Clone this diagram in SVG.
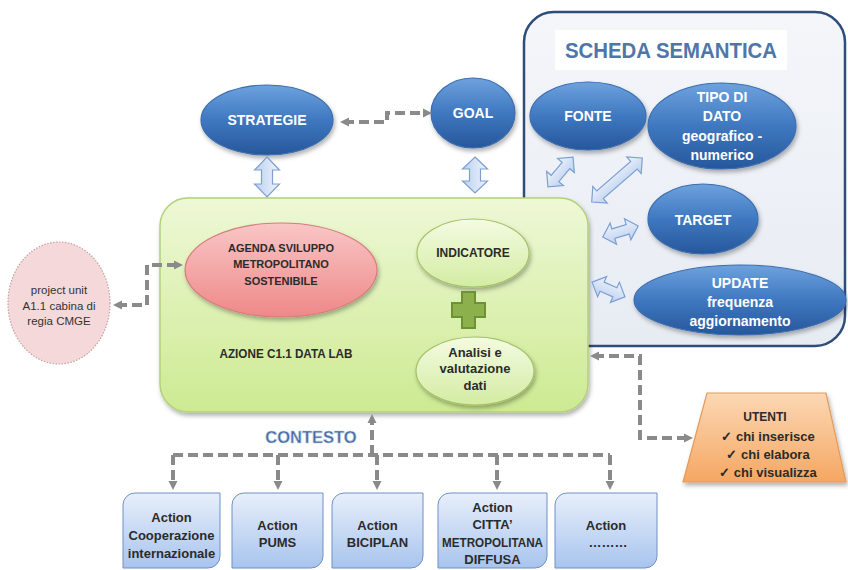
<svg xmlns="http://www.w3.org/2000/svg" width="848" height="570" viewBox="0 0 848 570">
<defs>
<style>
text{font-family:"Liberation Sans",Arial,sans-serif;text-anchor:middle}
.bt{fill:#fff;font-weight:bold;font-size:14px}
.dt{fill:#2b2b2b;font-weight:bold}
.blue{fill:url(#gBlue);stroke:#3d6daf;stroke-width:1.2;filter:url(#sh)}
.gell{fill:url(#gGreenE);stroke:#a3c267;stroke-width:1.2;filter:url(#sh)}
.act{fill:url(#gAct);stroke:#6f90c6;stroke-width:1}
.dash{fill:none;stroke:#8a8a8a;stroke-width:4;stroke-dasharray:10 5}
.barr{fill:url(#gArr);stroke:#7c9fd4;stroke-width:1.2}
</style>
<linearGradient id="gBlue" x1="0" y1="0" x2="0" y2="1">
<stop offset="0" stop-color="#6da2de"/><stop offset="0.5" stop-color="#3f78c0"/><stop offset="1" stop-color="#26579b"/>
</linearGradient>
<linearGradient id="gGreenBox" x1="0" y1="0" x2="0" y2="1">
<stop offset="0" stop-color="#eef8d6"/><stop offset="1" stop-color="#cdea92"/>
</linearGradient>
<linearGradient id="gGreenE" x1="0" y1="0" x2="0" y2="1">
<stop offset="0" stop-color="#f4fbe2"/><stop offset="1" stop-color="#d3eca2"/>
</linearGradient>
<linearGradient id="gPink" x1="0" y1="0" x2="0" y2="1">
<stop offset="0" stop-color="#fac6c6"/><stop offset="1" stop-color="#ee8888"/>
</linearGradient>
<linearGradient id="gOrange" x1="0" y1="0" x2="0" y2="1">
<stop offset="0" stop-color="#fcd8b4"/><stop offset="1" stop-color="#f5a762"/>
</linearGradient>
<linearGradient id="gAct" x1="0" y1="0" x2="0" y2="1">
<stop offset="0" stop-color="#e8effb"/><stop offset="1" stop-color="#a8c4ee"/>
</linearGradient>
<linearGradient id="gArr" x1="0" y1="0" x2="0" y2="1">
<stop offset="0" stop-color="#eef3fb"/><stop offset="1" stop-color="#bcd0f0"/>
</linearGradient>
<linearGradient id="gPanel" x1="0" y1="0" x2="0" y2="1">
<stop offset="0" stop-color="#f4f6fa"/><stop offset="1" stop-color="#e7ecf3"/>
</linearGradient>
<filter id="sh" x="-20%" y="-20%" width="140%" height="150%">
<feDropShadow dx="1.5" dy="3" stdDeviation="2" flood-color="#000" flood-opacity="0.3"/>
</filter>
<marker id="ah" markerWidth="10" markerHeight="10" refX="5" refY="5" orient="auto-start-reverse" markerUnits="userSpaceOnUse">
<path d="M0,0.5 L9,5 L0,9.5 Z" fill="#8a8a8a"/>
</marker>
</defs>

<rect width="848" height="570" fill="#fff"/>

<g id="scheda-semantica">
<rect x="524" y="12" width="321" height="334" rx="30" fill="url(#gPanel)" stroke="#2e4d78" stroke-width="2.5"/>
<rect x="555" y="30" width="232" height="40" fill="#fff"/>
<text x="671" y="58" font-size="22" font-weight="bold" fill="#4f76a8" textLength="212" lengthAdjust="spacingAndGlyphs">SCHEDA SEMANTICA</text>
</g>

<g id="strategie">
<ellipse class="blue" cx="267" cy="120" rx="66" ry="35"/>
<text class="bt" x="267" y="125">STRATEGIE</text>
</g>
<g id="goal">
<ellipse class="blue" cx="473" cy="113" rx="42" ry="35"/>
<text class="bt" x="473" y="118">GOAL</text>
</g>
<g id="fonte">
<ellipse class="blue" cx="588" cy="116" rx="58" ry="34"/>
<text class="bt" x="588" y="121">FONTE</text>
</g>
<g id="tipo-di-dato">
<ellipse class="blue" cx="722" cy="126" rx="74" ry="43"/>
<text class="bt" x="722" y="102">TIPO DI</text>
<text class="bt" x="722" y="121">DATO</text>
<text class="bt" x="722" y="141">geografico -</text>
<text class="bt" x="722" y="160">numerico</text>
</g>
<g id="target">
<ellipse class="blue" cx="703" cy="219" rx="55" ry="35"/>
<text class="bt" x="703" y="225">TARGET</text>
</g>
<g id="update">
<ellipse class="blue" cx="740" cy="300" rx="106" ry="35"/>
<text class="bt" x="740" y="288">UPDATE</text>
<text class="bt" x="740" y="307">frequenza</text>
<text class="bt" x="740" y="326">aggiornamento</text>
</g>

<g id="data-lab">
<rect x="160" y="198" width="428" height="214" rx="28" fill="url(#gGreenBox)" stroke="#b2d17a" stroke-width="1.5" filter="url(#sh)"/>
<text class="dt" x="286" y="358" font-size="12" textLength="133" lengthAdjust="spacingAndGlyphs">AZIONE C1.1 DATA LAB</text>
</g>
<g id="agenda">
<ellipse cx="281" cy="270" rx="96" ry="47" fill="url(#gPink)" stroke="#d77c7c" stroke-width="1.2" filter="url(#sh)"/>
<text class="dt" x="281" y="252" font-size="11">AGENDA SVILUPPO</text>
<text class="dt" x="281" y="268" font-size="11">METROPOLITANO</text>
<text class="dt" x="281" y="285" font-size="11">SOSTENIBILE</text>
</g>
<g id="indicatore">
<ellipse class="gell" cx="473" cy="253" rx="56" ry="34"/>
<text class="dt" x="473" y="257" font-size="12">INDICATORE</text>
</g>
<g id="plus">
<path d="M462,292 H475 V303 H485 V317 H475 V328 H462 V317 H452 V303 H462 Z" fill="#8cb14c" stroke="#6c9234" stroke-width="2"/>
</g>
<g id="analisi">
<ellipse class="gell" cx="475" cy="371" rx="59" ry="34"/>
<text class="dt" x="475" y="357" font-size="13">Analisi e</text>
<text class="dt" x="475" y="373" font-size="13">valutazione</text>
<text class="dt" x="475" y="390" font-size="13">dati</text>
</g>

<g id="project-unit">
<ellipse cx="59" cy="303" rx="51" ry="61" fill="#f4d8da" stroke="#c3a0a4" stroke-width="1.2" stroke-dasharray="1.5 1.5"/>
<text x="59" y="294" font-size="11.5" fill="#333">project unit</text>
<text x="59" y="310" font-size="11.5" fill="#333">A1.1 cabina di</text>
<text x="59" y="325" font-size="11.5" fill="#333">regia CMGE</text>
</g>

<g id="utenti">
<path d="M707,393 H826 L846,482 H683 Z" fill="url(#gOrange)" stroke="#e19b5c" stroke-width="1.2" filter="url(#sh)"/>
<text class="dt" x="765" y="421" font-size="12">UTENTI</text>
<text class="dt" x="768" y="441" font-size="13">✓ chi inserisce</text>
<text class="dt" x="768" y="459" font-size="13">✓ chi elabora</text>
<text class="dt" x="768" y="477" font-size="13">✓ chi visualizza</text>
</g>

<g id="contesto">
<text x="311" y="443" font-size="16.5" font-weight="bold" fill="#41679e" stroke="#b9c9e2" stroke-width="0.6">CONTESTO</text>
</g>

<g id="action-cooperazione">
<path class="act" d="M135,493 H220 V556 A12 12 0 0 1 208,568 H123 V505 A12 12 0 0 1 135,493 Z"/>
<text class="dt" x="171.5" y="522" font-size="13">Action</text>
<text class="dt" x="171.5" y="540" font-size="13">Cooperazione</text>
<text class="dt" x="171.5" y="558" font-size="13">internazionale</text>
</g>
<g id="action-pums">
<path class="act" d="M244,493 H323 V556 A12 12 0 0 1 311,568 H232 V505 A12 12 0 0 1 244,493 Z"/>
<text class="dt" x="277.5" y="530" font-size="13">Action</text>
<text class="dt" x="277.5" y="547" font-size="13">PUMS</text>
</g>
<g id="action-biciplan">
<path class="act" d="M344,493 H423 V556 A12 12 0 0 1 411,568 H332 V505 A12 12 0 0 1 344,493 Z"/>
<text class="dt" x="377.5" y="530" font-size="13">Action</text>
<text class="dt" x="377.5" y="547" font-size="13">BICIPLAN</text>
</g>
<g id="action-citta">
<path class="act" d="M450,493 H547 V556 A12 12 0 0 1 535,568 H438 V505 A12 12 0 0 1 450,493 Z"/>
<text class="dt" x="492.5" y="512" font-size="13">Action</text>
<text class="dt" x="492.5" y="529" font-size="13">CITTA’</text>
<text class="dt" x="492.5" y="547" font-size="13" textLength="101" lengthAdjust="spacingAndGlyphs">METROPOLITANA</text>
<text class="dt" x="492.5" y="564" font-size="13">DIFFUSA</text>
</g>
<g id="action-altro">
<path class="act" d="M567,493 H657 V556 A12 12 0 0 1 645,568 H555 V505 A12 12 0 0 1 567,493 Z"/>
<text class="dt" x="606" y="530" font-size="13">Action</text>
<text class="dt" x="608" y="547" font-size="13">………</text>
</g>

<g id="connectors">
<path class="barr" transform="translate(267,177) rotate(90)" d="M-20,0 L-7,-12.5 L-7,-5.5 L7,-5.5 L7,-12.5 L20,0 L7,12.5 L7,5.5 L-7,5.5 L-7,12.5 Z"/>
<path class="barr" transform="translate(475,175) rotate(90)" d="M-18,0 L-6,-12.5 L-6,-5.5 L6,-5.5 L6,-12.5 L18,0 L6,12.5 L6,5.5 L-6,5.5 L-6,12.5 Z"/>
<path class="barr" transform="translate(560.5,172) rotate(-50)" d="M-19.5,0 L-8.5,-11 L-8.5,-5 L8.5,-5 L8.5,-11 L19.5,0 L8.5,11 L8.5,5 L-8.5,5 L-8.5,11 Z"/>
<path class="barr" transform="translate(617,180) rotate(-41)" d="M-33.5,0 L-22.5,-11 L-22.5,-5 L22.5,-5 L22.5,-11 L33.5,0 L22.5,11 L22.5,5 L-22.5,5 L-22.5,11 Z"/>
<path class="barr" transform="translate(620.5,231.5) rotate(-17)" d="M-18.5,0 L-7.5,-11 L-7.5,-5 L7.5,-5 L7.5,-11 L18.5,0 L7.5,11 L7.5,5 L-7.5,5 L-7.5,11 Z"/>
<path class="barr" transform="translate(608.5,289.5) rotate(24)" d="M-18,0 L-7,-11 L-7,-5 L7,-5 L7,-11 L18,0 L7,11 L7,5 L-7,5 L-7,11 Z"/>

<path class="dash" d="M344,122 H387 V113 H428" marker-start="url(#ah)" marker-end="url(#ah)"/>
<path class="dash" d="M117,305 H147 V265 H179" marker-start="url(#ah)" marker-end="url(#ah)"/>
<path class="dash" d="M594,356 H640 V438 H689" marker-start="url(#ah)" marker-end="url(#ah)"/>
<path class="dash" d="M372,455 V418" marker-end="url(#ah)"/>
<path class="dash" d="M173,455 H610"/>
<path class="dash" d="M173,455 V486" marker-end="url(#ah)"/>
<path class="dash" d="M278,455 V486" marker-end="url(#ah)"/>
<path class="dash" d="M377,455 V486" marker-end="url(#ah)"/>
<path class="dash" d="M497,455 V486" marker-end="url(#ah)"/>
<path class="dash" d="M610,455 V486" marker-end="url(#ah)"/>
</g>
</svg>
